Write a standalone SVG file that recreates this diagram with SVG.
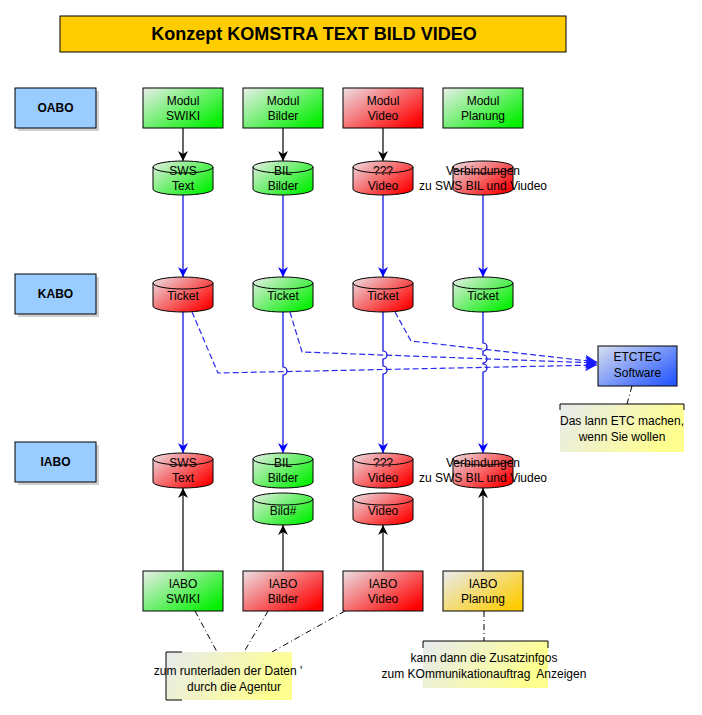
<svg xmlns="http://www.w3.org/2000/svg" width="702" height="715" viewBox="0 0 702 715">
<style>
text{font-family:"Liberation Sans",Arial,sans-serif;font-size:12px;fill:#000;text-anchor:middle}
.b{font-weight:bold}
.box{stroke:#000;stroke-width:1}
.cyl{stroke:#000;stroke-width:1}
.lbl{fill:#99ccff;stroke:#000;stroke-width:1}
.sh{fill:#000;opacity:0.18}
.blk{stroke:#000;stroke-width:1.2;fill:none}
.blu{stroke:#0000dd;stroke-width:1.2;fill:none}
.dsh{stroke:#2a2aee;stroke-width:1.2;fill:none;stroke-dasharray:6 3}
.dd{stroke:#000;stroke-width:1;fill:none;stroke-dasharray:6 3 1 3}
.nb{stroke:#000;stroke-width:1;fill:none}
</style>
<defs>
<linearGradient id="gG" x1="0" y1="0" x2="1" y2="0.8"><stop offset="0" stop-color="#e9eee9"/><stop offset="1" stop-color="#00f000"/></linearGradient>
<linearGradient id="gR" x1="0" y1="0" x2="1" y2="0.8"><stop offset="0" stop-color="#ebe0e4"/><stop offset="1" stop-color="#ff0000"/></linearGradient>
<linearGradient id="gB" x1="0" y1="0" x2="1" y2="0.8"><stop offset="0" stop-color="#d8e0f0"/><stop offset="1" stop-color="#2b5bff"/></linearGradient>
<linearGradient id="gY" x1="0" y1="0" x2="1" y2="0.8"><stop offset="0" stop-color="#e8ecf0"/><stop offset="1" stop-color="#ffcc00"/></linearGradient>
<linearGradient id="gN" x1="0" y1="0" x2="1" y2="0.3"><stop offset="0" stop-color="#e6eaef"/><stop offset="1" stop-color="#ffff90"/></linearGradient>
<marker id="aK" markerWidth="11" markerHeight="10" refX="10" refY="5" orient="auto" markerUnits="userSpaceOnUse"><path d="M0,0 L10,5 L0,10 L3,5 z" fill="#000"/></marker>
<marker id="aB" markerWidth="11" markerHeight="10" refX="10" refY="5" orient="auto" markerUnits="userSpaceOnUse"><path d="M0,0 L10,5 L0,10 L3,5 z" fill="#0000ff"/></marker>
<marker id="aD" markerWidth="13" markerHeight="12" refX="12" refY="6" orient="auto" markerUnits="userSpaceOnUse"><path d="M0,0 L12,6 L0,12 L3,6 z" fill="#1a1aff"/></marker>
</defs>

<g id="title">
<rect x="60" y="16" width="506" height="36" fill="#ffcc00" stroke="#000"/>
<text x="314" y="40" class="b" style="font-size:18px">Konzept KOMSTRA TEXT BILD VIDEO</text>
</g>

<g id="oabo"><rect class="sh" x="18" y="91" width="81" height="40"/><rect class="lbl" x="15" y="88" width="81" height="40"/><text x="55.5" y="112" class="b">OABO</text></g>
<g id="kabo"><rect class="sh" x="18" y="277" width="81" height="40"/><rect class="lbl" x="15" y="274" width="81" height="40"/><text x="55.5" y="298" class="b">KABO</text></g>
<g id="iabo"><rect class="sh" x="18" y="445" width="81" height="40"/><rect class="lbl" x="15" y="442" width="81" height="40"/><text x="55.5" y="466" class="b">IABO</text></g>

<g id="connectors">
<line class="blk" x1="183" y1="128" x2="183" y2="161" marker-end="url(#aK)"/>
<line class="blk" x1="283" y1="128" x2="283" y2="161" marker-end="url(#aK)"/>
<line class="blk" x1="383" y1="128" x2="383" y2="161" marker-end="url(#aK)"/>
<line class="blu" x1="183" y1="195" x2="183" y2="277" marker-end="url(#aB)"/>
<line class="blu" x1="283" y1="195" x2="283" y2="277" marker-end="url(#aB)"/>
<line class="blu" x1="383" y1="195" x2="383" y2="277" marker-end="url(#aB)"/>
<line class="blu" x1="483" y1="195" x2="483" y2="277" marker-end="url(#aB)"/>
<path class="blu" d="M183,312 V453" marker-end="url(#aB)"/>
<path class="blu" d="M283,312 V367 a4,4 0 0 1 0,8 V453" marker-end="url(#aB)"/>
<path class="blu" d="M383,312 V351 a4,4 0 0 1 0,8 V366 a4,4 0 0 1 0,8 V453" marker-end="url(#aB)"/>
<path class="blu" d="M483,312 V343 a4,4 0 0 1 0,8 V355 a4,4 0 0 1 0,8 V364 a4,4 0 0 1 0,8 V453" marker-end="url(#aB)"/>
<path class="dsh" d="M192,312 L218,373 L597,365" marker-end="url(#aD)"/>
<path class="dsh" d="M290,312 L302,352 L597,363" marker-end="url(#aD)"/>
<path class="dsh" d="M395,312 L411,341 L597,362" marker-end="url(#aD)"/>
<line class="blk" x1="183" y1="571" x2="183" y2="488" marker-end="url(#aK)"/>
<line class="blk" x1="283" y1="571" x2="283" y2="525" marker-end="url(#aK)"/>
<line class="blk" x1="383" y1="571" x2="383" y2="525" marker-end="url(#aK)"/>
<line class="blk" x1="483" y1="571" x2="483" y2="488" marker-end="url(#aK)"/>
<line class="dd" x1="632" y1="386" x2="627" y2="404"/>
<line class="dd" x1="195" y1="611" x2="217" y2="652"/>
<line class="dd" x1="268" y1="611" x2="244" y2="652"/>
<line class="dd" x1="345" y1="611" x2="272" y2="652"/>
<line class="dd" x1="484" y1="611" x2="484" y2="641"/>
</g>

<g id="modul-swiki"><rect class="box" x="143" y="88" width="80" height="40" fill="url(#gG)"/><text x="183" y="105">Modul</text><text x="183" y="120">SWIKI</text></g>
<g id="modul-bilder"><rect class="box" x="243" y="88" width="80" height="40" fill="url(#gG)"/><text x="283" y="105">Modul</text><text x="283" y="120">Bilder</text></g>
<g id="modul-video"><rect class="box" x="343" y="88" width="80" height="40" fill="url(#gR)"/><text x="383" y="105">Modul</text><text x="383" y="120">Video</text></g>
<g id="modul-planung"><rect class="box" x="443" y="88" width="80" height="40" fill="url(#gG)"/><text x="483" y="105">Modul</text><text x="483" y="120">Planung</text></g>

<g id="o-sws"><path class="cyl" fill="url(#gG)" d="M153,167 V189 A30,6 0 0 0 213,189 V167 A30,6 0 0 0 153,167 Z M153,167 A30,6 0 0 0 213,167"/><text x="183" y="175">SWS</text><text x="183" y="190">Text</text></g>
<g id="o-bil"><path class="cyl" fill="url(#gG)" d="M253,167 V189 A30,6 0 0 0 313,189 V167 A30,6 0 0 0 253,167 Z M253,167 A30,6 0 0 0 313,167"/><text x="283" y="175">BIL</text><text x="283" y="190">Bilder</text></g>
<g id="o-video"><path class="cyl" fill="url(#gR)" d="M353,167 V189 A30,6 0 0 0 413,189 V167 A30,6 0 0 0 353,167 Z M353,167 A30,6 0 0 0 413,167"/><text x="383" y="175">???</text><text x="383" y="190">Video</text></g>
<g id="o-verb"><path class="cyl" fill="url(#gR)" d="M453,167 V189 A30,6 0 0 0 513,189 V167 A30,6 0 0 0 453,167 Z M453,167 A30,6 0 0 0 513,167"/><text x="483" y="175">Verbindungen</text><text x="483" y="190">zu SWS BIL und Viudeo</text></g>

<g id="ticket1"><path class="cyl" fill="url(#gR)" d="M153,283 V306 A30,6 0 0 0 213,306 V283 A30,6 0 0 0 153,283 Z M153,283 A30,6 0 0 0 213,283"/><text x="183" y="300">Ticket</text></g>
<g id="ticket2"><path class="cyl" fill="url(#gG)" d="M253,283 V306 A30,6 0 0 0 313,306 V283 A30,6 0 0 0 253,283 Z M253,283 A30,6 0 0 0 313,283"/><text x="283" y="300">Ticket</text></g>
<g id="ticket3"><path class="cyl" fill="url(#gR)" d="M353,283 V306 A30,6 0 0 0 413,306 V283 A30,6 0 0 0 353,283 Z M353,283 A30,6 0 0 0 413,283"/><text x="383" y="300">Ticket</text></g>
<g id="ticket4"><path class="cyl" fill="url(#gG)" d="M453,283 V306 A30,6 0 0 0 513,306 V283 A30,6 0 0 0 453,283 Z M453,283 A30,6 0 0 0 513,283"/><text x="483" y="300">Ticket</text></g>

<g id="etctec"><rect class="box" x="598" y="346" width="79" height="40" fill="url(#gB)"/><text x="637.5" y="361">ETCTEC</text><text x="637.5" y="377">Software</text></g>
<g id="note-etc"><rect x="560" y="404" width="124" height="48" fill="url(#gN)"/><path class="nb" d="M560,410 V404 H684 V410"/><text x="622" y="425">Das lann ETC machen,</text><text x="622" y="441">wenn Sie wollen</text></g>

<g id="i-sws"><path class="cyl" fill="url(#gR)" d="M153,459 V482 A30,6 0 0 0 213,482 V459 A30,6 0 0 0 153,459 Z M153,459 A30,6 0 0 0 213,459"/><text x="183" y="467">SWS</text><text x="183" y="482">Text</text></g>
<g id="i-bil"><path class="cyl" fill="url(#gG)" d="M253,459 V482 A30,6 0 0 0 313,482 V459 A30,6 0 0 0 253,459 Z M253,459 A30,6 0 0 0 313,459"/><text x="283" y="467">BIL</text><text x="283" y="482">Bilder</text></g>
<g id="i-video"><path class="cyl" fill="url(#gR)" d="M353,459 V482 A30,6 0 0 0 413,482 V459 A30,6 0 0 0 353,459 Z M353,459 A30,6 0 0 0 413,459"/><text x="383" y="467">???</text><text x="383" y="482">Video</text></g>
<g id="i-verb"><path class="cyl" fill="url(#gR)" d="M453,459 V482 A30,6 0 0 0 513,482 V459 A30,6 0 0 0 453,459 Z M453,459 A30,6 0 0 0 513,459"/><text x="483" y="467">Verbindungen</text><text x="483" y="482">zu SWS BIL und Viudeo</text></g>
<g id="bild-hash"><path class="cyl" fill="url(#gG)" d="M253,499 V519 A30,6 0 0 0 313,519 V499 A30,6 0 0 0 253,499 Z M253,499 A30,6 0 0 0 313,499"/><text x="283" y="515">Bild#</text></g>
<g id="video-store"><path class="cyl" fill="url(#gR)" d="M353,499 V519 A30,6 0 0 0 413,519 V499 A30,6 0 0 0 353,499 Z M353,499 A30,6 0 0 0 413,499"/><text x="383" y="515">Video</text></g>

<g id="iabo-swiki"><rect class="box" x="143" y="571" width="80" height="40" fill="url(#gG)"/><text x="183" y="588">IABO</text><text x="183" y="603">SWIKI</text></g>
<g id="iabo-bilder"><rect class="box" x="243" y="571" width="80" height="40" fill="url(#gR)"/><text x="283" y="588">IABO</text><text x="283" y="603">Bilder</text></g>
<g id="iabo-video"><rect class="box" x="343" y="571" width="80" height="40" fill="url(#gR)"/><text x="383" y="588">IABO</text><text x="383" y="603">Video</text></g>
<g id="iabo-planung"><rect class="box" x="443" y="571" width="80" height="40" fill="url(#gY)"/><text x="483" y="588">IABO</text><text x="483" y="603">Planung</text></g>

<g id="note-agentur"><rect x="166" y="652" width="126" height="48" fill="url(#gN)"/><path class="nb" d="M182,652 H166 V700 H182"/><text x="228" y="675">zum runterladen der Daten '</text><text x="234" y="691">durch die Agentur</text></g>
<g id="note-planung"><rect x="423" y="641" width="125" height="47" fill="url(#gN)"/><path class="nb" d="M423,648 V641 H548 V648"/><text x="484" y="662">kann dann die Zusatzinfgos</text><text x="484" y="678" xml:space="preserve">zum KOmmunikationauftrag  Anzeigen</text></g>
</svg>
